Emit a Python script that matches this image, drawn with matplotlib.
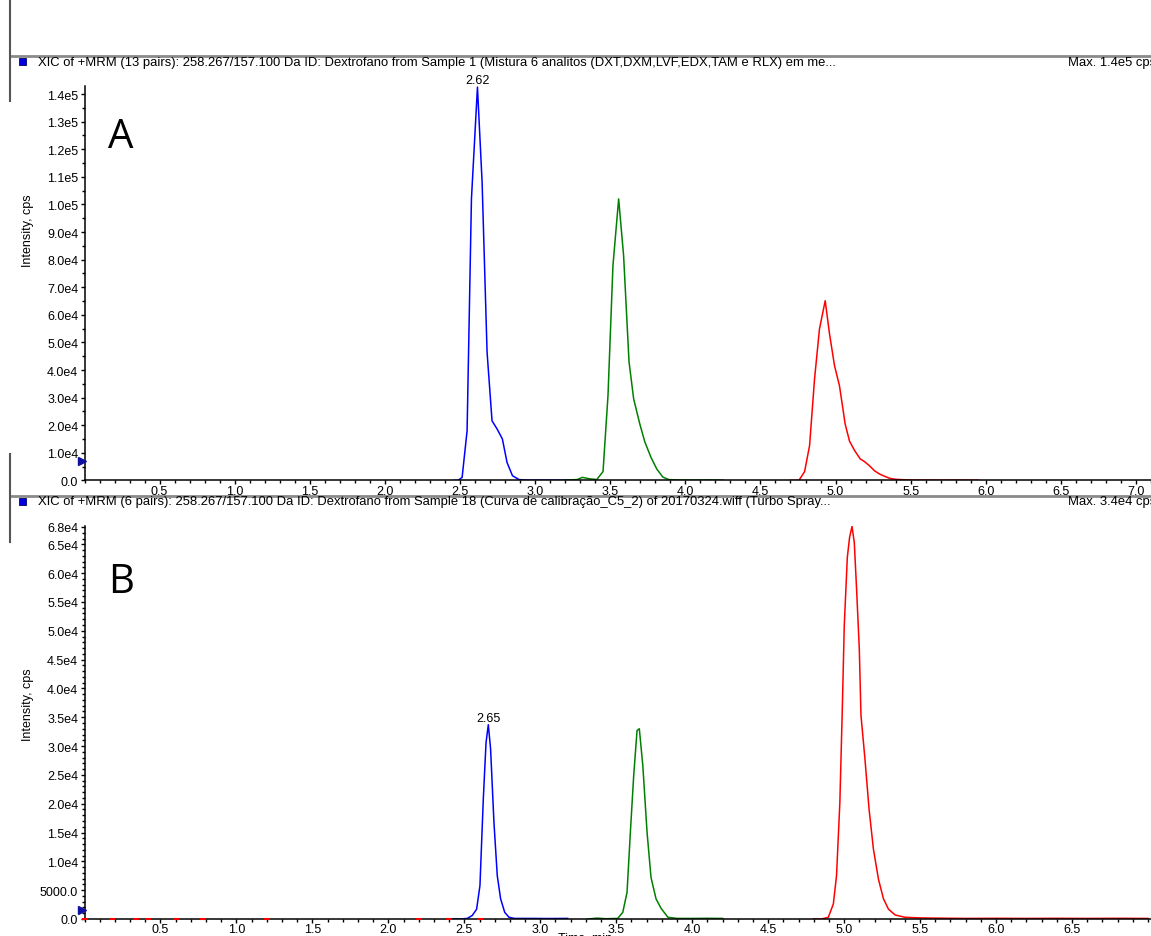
import matplotlib
matplotlib.use("Agg")
import matplotlib.pyplot as plt
from matplotlib.ticker import MultipleLocator, FuncFormatter, FixedLocator
from matplotlib.lines import Line2D
from matplotlib.patches import Rectangle
import matplotlib.transforms as mtransforms

# ---------------- data ----------------
# Panel A
blue_a_t = [2.46, 2.487, 2.514, 2.547, 2.576, 2.616, 2.647, 2.680, 2.713, 2.747, 2.782, 2.813, 2.849, 2.893, 2.95, 3.05, 3.15, 3.25]
blue_a_v = [0, 0, 1100, 18000, 102000, 142500, 108000, 46500, 21600, 18600, 15000, 6500, 1700, 300, 100, 120, 100, 100]

green_a_t = [3.20, 3.28, 3.315, 3.36, 3.41, 3.452, 3.485, 3.518, 3.556, 3.589, 3.625, 3.656, 3.697, 3.73, 3.77, 3.81, 3.85, 3.89, 3.95, 4.05, 4.15, 4.25]
green_a_v = [100, 300, 1100, 600, 300, 3200, 30700, 77800, 102000, 81400, 43000, 29500, 20400, 14000, 8500, 4100, 1200, 300, 150, 100, 150, 100]

red_a_t = [4.70, 4.756, 4.794, 4.827, 4.860, 4.893, 4.931, 4.960, 4.993, 5.026, 5.064, 5.093, 5.127, 5.164, 5.193, 5.226, 5.259, 5.293, 5.326, 5.36, 5.40, 5.45, 5.5, 5.6, 5.7, 5.8, 5.9, 5.95]
red_a_v = [0, 0, 3200, 12600, 36700, 54900, 65100, 53000, 41600, 34300, 20400, 14200, 10800, 7800, 6800, 5300, 3500, 2300, 1500, 760, 400, 250, 150, 100, 80, 100, 80, 60]

# Panel B
blue_b_t = [2.40, 2.475, 2.519, 2.552, 2.581, 2.603, 2.625, 2.643, 2.658, 2.673, 2.695, 2.717, 2.739, 2.766, 2.794, 2.83, 2.95, 3.05, 3.18]
blue_b_v = [0, 0, 100, 600, 1700, 5800, 20800, 30600, 33700, 29500, 16800, 7500, 3500, 1150, 300, 100, 100, 80, 100]

green_b_t = [3.311, 3.373, 3.43, 3.51, 3.543, 3.571, 3.593, 3.615, 3.637, 3.652, 3.675, 3.703, 3.729, 3.762, 3.795, 3.84, 3.9, 4.0, 4.1, 4.2]
green_b_v = [0, 150, 50, 100, 1150, 4600, 15000, 24900, 32700, 33000, 26600, 15000, 7200, 3500, 1850, 300, 100, 100, 120, 100]

red_b_t = [4.80, 4.851, 4.896, 4.929, 4.950, 4.972, 4.988, 5.001, 5.021, 5.036, 5.052, 5.067, 5.083, 5.100, 5.111, 5.137, 5.164, 5.193, 5.226, 5.259, 5.292, 5.336, 5.40, 5.49, 5.6, 5.8, 6.0, 6.2, 6.4, 6.6, 6.8, 7.0]
red_b_v = [0, 0, 300, 2600, 7500, 20200, 36400, 50900, 62700, 66200, 68100, 65300, 56700, 46800, 35300, 27800, 19100, 12100, 6900, 3500, 1700, 700, 300, 200, 150, 100, 120, 100, 120, 100, 120, 100]

red_b_noise_t = [0.0, 0.18, 0.34, 0.42, 0.6, 0.78, 1.2, 2.2, 2.4, 2.6]

peak_labels = ["2.62", "2.65"]
peak_pos = [(2.616, 142500), (2.658, 33700)]
threshold_a = 7000
threshold_b = 1560

headers = [
    "XIC of +MRM (13 pairs): 258.267/157.100 Da ID: Dextrofano from Sample 1 (Mistura 6 analitos (DXT,DXM,LVF,EDX,TAM e RLX) em me...",
    "XIC of +MRM (6 pairs): 258.267/157.100 Da ID: Dextrofano from Sample 18 (Curva de calibração_C5_2) of 20170324.wiff (Turbo Spray...",
]
max_texts = ["Max. 1.4e5 cps", "Max. 3.4e4 cps"]
panel_letters = ["A", "B"]

# ---------------- figure ----------------
W, H = 1151, 937
fig = plt.figure(figsize=(W / 100, H / 100), dpi=100)
FONT = "Liberation Sans"
plt.rcParams["font.family"] = [FONT, "DejaVu Sans"]
TFS = 9.0   # tick font size
HFS = 9.4   # header font size

def fx(px):
    return px / W

def fy(py):
    return 1 - py / H

BLUE, GREEN, RED = "#0000FF", "#008000", "#FF0000"
LW = 1.1


def yfmt(v, pos):
    if abs(v) < 1e4:
        return f"{v:.1f}"
    e = 0
    m = v
    while abs(m) >= 10:
        m /= 10
        e += 1
    return f"{m:.1f}e{e}"


def style_axes(ax, ymaj, ymin_step, xmax_label):
    for s in ["top", "right"]:
        ax.spines[s].set_visible(False)
    for s in ["left", "bottom"]:
        ax.spines[s].set_linewidth(1.1)
        ax.spines[s].set_color("black")
    ax.xaxis.set_major_locator(FixedLocator([0.5 * i for i in range(1, int(xmax_label * 2) + 1)]))
    ax.xaxis.set_minor_locator(MultipleLocator(0.1))
    ax.xaxis.set_major_formatter(FuncFormatter(lambda v, p: f"{v:.1f}"))
    ax.yaxis.set_major_locator(FixedLocator(ymaj))
    ax.yaxis.set_minor_locator(MultipleLocator(ymin_step))
    ax.yaxis.set_major_formatter(FuncFormatter(yfmt))
    ax.tick_params(which="major", direction="out", length=3, width=1, labelsize=TFS)
    ax.tick_params(axis="x", which="major", pad=0)
    ax.tick_params(axis="y", which="major", pad=1.5)
    ax.tick_params(which="minor", direction="out", length=2.2, width=1)
    for lab in ax.get_xticklabels() + ax.get_yticklabels():
        lab.set_fontfamily(FONT)


# Panel A axes
ax_left = 84.5
axA = fig.add_axes([fx(ax_left), fy(481.4), fx(W - ax_left), (481.4 - 87.3) / H])
axA.set_xlim(0, 7.1)
axA.set_ylim(0, 142800)
axA.plot(blue_a_t, blue_a_v, color=BLUE, lw=LW)
axA.plot(green_a_t, green_a_v, color=GREEN, lw=LW)
axA.plot(red_a_t, red_a_v, color=RED, lw=LW)
style_axes(axA, [i * 1e4 for i in range(15)], 5000, 7.0)

# Panel B axes
axB = fig.add_axes([fx(ax_left), fy(920), fx(W - ax_left), (920 - 527.4) / H])
axB.set_xlim(0, 7.02)
axB.set_ylim(0, 68100)
axB.plot(red_b_t, red_b_v, color=RED, lw=LW)
axB.plot(blue_b_t, blue_b_v, color=BLUE, lw=LW)
axB.plot(green_b_t, green_b_v, color=GREEN, lw=LW)
axB.plot(red_b_noise_t, [0] * len(red_b_noise_t), ls="none", marker="_", ms=4, mew=1.5,
         color=RED, clip_on=False, zorder=5)
style_axes(axB, [i * 5000 for i in range(14)] + [68000], 1000, 6.5)

# peak labels
for ax, lab, (pt, pv) in zip([axA, axB], peak_labels, peak_pos):
    ax.annotate(lab, xy=(pt, pv), xytext=(0, 0.5), textcoords="offset points",
                ha="center", va="bottom", fontsize=TFS, family=FONT, annotation_clip=False)

# threshold triangles at the left of the y-axis
for ax, thr in zip([axA, axB], [threshold_a, threshold_b]):
    tr = mtransforms.blended_transform_factory(ax.transAxes, ax.transData)
    ax.plot([-0.002], [thr], marker=">", ms=6, color="#1010A0", transform=tr, clip_on=False, zorder=6)

# y labels
for ax, yc in zip([axA, axB], [231, 705]):
    fig.text(fx(28), fy(yc), "Intensity, cps", rotation=90, ha="center", va="center",
             fontsize=9, family=FONT)

# x label of panel A (almost hidden by the header of B, as in the reference)
fig.text(fx(585), fy(503), "Time, min", ha="center", va="center", fontsize=TFS, family=FONT, zorder=1)
# x label of panel B (cut by the bottom edge)
fig.text(fx(585), fy(932.5), "Time, min", ha="center", va="top", fontsize=TFS, family=FONT)

# headers
for hy, txt, mtxt in zip([57, 496.5], headers, max_texts):
    fig.patches.append(Rectangle((fx(10), fy(hy + 13)), 1, 12 / H, transform=fig.transFigure,
                                 facecolor="white", edgecolor="none", zorder=3))
    fig.lines.append(Line2D([fx(10), 1], [fy(hy), fy(hy)], transform=fig.transFigure,
                            color="#8a8a8a", lw=2, zorder=4))
    fig.patches.append(Rectangle((fx(19), fy(hy + 9)), 7 / W, 7 / H, transform=fig.transFigure,
                                 facecolor="#0000E0", edgecolor="#000060", lw=0.6, zorder=5))
    fig.text(fx(38), fy(hy + 6), txt, ha="left", va="center", fontsize=HFS, family=FONT, zorder=5)
    fig.text(fx(1068), fy(hy + 6), mtxt, ha="left", va="center", fontsize=HFS, family=FONT, zorder=5)

# window frame vertical lines
for y0, y1 in [(0, 102), (455, 543)]:
    fig.lines.append(Line2D([fx(10), fx(10)], [fy(y0), fy(y1)], transform=fig.transFigure,
                            color="#555555", lw=1.5, zorder=4))

# panel letters
for lab, yc in zip(panel_letters, [138, 583]):
    fig.text(fx(121), fy(yc), lab, ha="center", va="center", fontsize=29, family="Open Sans")

fig.savefig("out.png", dpi=100)
